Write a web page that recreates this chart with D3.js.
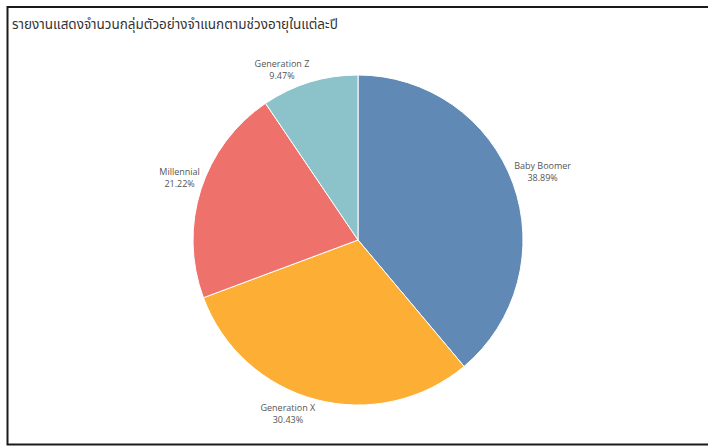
<!DOCTYPE html>
<html>
<head>
<meta charset="utf-8">
<script src="https://cdn.jsdelivr.net/npm/d3@7"></script>
<style>
  html, body { margin: 0; padding: 0; background: #fff; }
  svg { display: block; }
</style>
</head>
<body>
<svg id="chart" width="708" height="446"></svg>
<script>
// Age-group share of the sample
const categories = ["Baby Boomer", "Generation X", "Millennial", "Generation Z"];
const shares = [38.89, 30.43, 21.22, 9.47];
const colors = ["#6189b6", "#fdae34", "#ef716b", "#8cc2ca"];
const title = "รายงานแสดงจำนวนกลุ่มตัวอย่างจำแนกตามช่วงอายุในแต่ละปี";

const W = 708, H = 446;
const svg = d3.select("#chart");

// Frame
svg.append("path")
  .attr("d", `M${W + 2},7 H7.5 V444.5 H${W + 2}`)
  .attr("fill", "none")
  .attr("stroke", "#1a1a1a")
  .attr("stroke-width", 2);

svg.append("text")
  .attr("x", 12)
  .attr("y", 29)
  .attr("font-family", "'Noto Sans Thai', 'Noto Sans', Tahoma, sans-serif")
  .attr("font-size", 13.5)
  .attr("fill", "#333")
  .text(title);

const cx = 358, cy = 240, R = 165;
const data = categories.map((c, i) => ({ name: c, value: shares[i], color: colors[i] }));

const pie = d3.pie().value(d => d.value).sort(null);
const arc = d3.arc().innerRadius(0).outerRadius(R);
const arcs = pie(data);

const g = svg.append("g").attr("transform", `translate(${cx},${cy})`);

g.selectAll("path.slice")
  .data(arcs)
  .join("path")
  .attr("class", "slice")
  .attr("d", arc)
  .attr("fill", d => d.data.color)
  .attr("stroke", "#fff")
  .attr("stroke-width", 1);

// Labels sit just outside the rim, pushed away from the pie by half their box
const labelFont = "'Open Sans', 'Noto Sans', sans-serif";
const gap = 1, lineH = 12, boxH = 24;
arcs.forEach(d => {
  const a = (d.startAngle + d.endAngle) / 2;
  const ux = Math.sin(a), uy = -Math.cos(a);
  const lbl = g.append("text")
    .attr("font-family", labelFont)
    .attr("font-size", 9)
    .attr("fill", "#555")
    .attr("text-anchor", "middle");
  lbl.append("tspan").attr("x", 0).attr("dy", 0).text(d.data.name);
  lbl.append("tspan").attr("x", 0).attr("dy", lineH).text(d.data.value.toFixed(2) + "%");
  const w = lbl.node().getBBox().width;
  const ax = (R + gap) * ux, ay = (R + gap) * uy;
  const lx = ax + Math.sign(ux) * w / 2;
  const ly = ay + Math.sign(uy) * boxH / 2;
  // first baseline so that the two lines are centred on ly
  lbl.attr("transform", `translate(${lx},${ly - lineH / 2 + 4})`);
});
</script>
</body>
</html>
